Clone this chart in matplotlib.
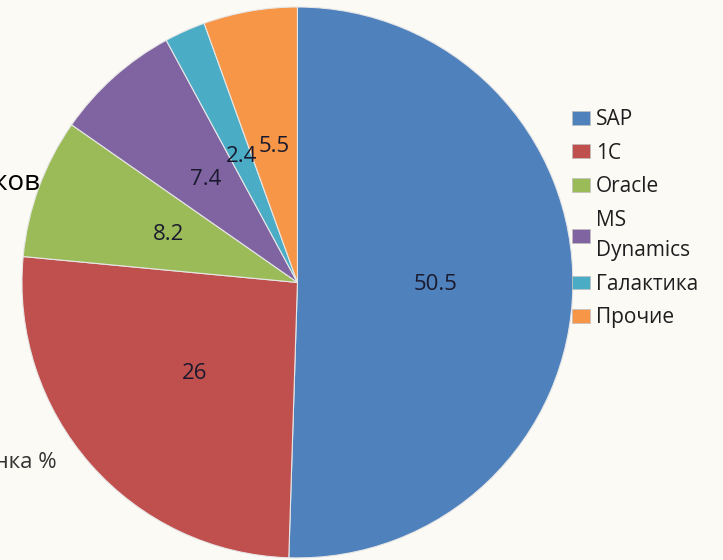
import numpy as np
import matplotlib.pyplot as plt
from matplotlib.patches import Patch

# Market share data
vendors = ["SAP", "1C", "Oracle", "MS\nDynamics", "Галактика", "Прочие"]
shares = [50.5, 26, 8.2, 7.4, 2.4, 5.5]
colors = ["#4F81BD", "#C0504D", "#9BBB59", "#8064A2", "#4BACC6", "#F79646"]

plt.rcParams["font.family"] = ["Open Sans", "DejaVu Sans"]

fig = plt.figure(figsize=(7.23, 5.6), dpi=100)
fig.patch.set_facecolor("#FCFAF5")

# clipped text fragments on the left edge (behind the pie)
fig.text(0.056, 0.674, "Рынок ERP-поставщиков", ha="right", va="center",
         fontsize=20, color="black", zorder=0)
fig.text(0.078, 0.175, "Оценка %", ha="right", va="center",
         fontsize=16, color="#333333", zorder=0)

ax = fig.add_axes([0.0304, 0.0036, 0.762, 0.984])
ax.set_facecolor("none")
wedges, texts = ax.pie(shares, colors=colors, startangle=90, counterclock=False,
                       radius=1, wedgeprops=dict(edgecolor="#e6e6e6", linewidth=0.8))
for w, val in zip(wedges, shares):
    ang = np.deg2rad((w.theta1 + w.theta2) / 2)
    ax.text(0.5 * np.cos(ang), 0.5 * np.sin(ang), f"{val:g}", ha="center",
            va="center", fontsize=16, color="#1a1a2e")
ax.set_xlim(-1, 1)
ax.set_ylim(-1, 1)
ax.set_aspect("equal")
ax.axis("off")

handles = [Patch(facecolor=c, edgecolor="#bfbfbf", linewidth=0.5) for c in colors]
leg = fig.legend(handles, vendors, loc="upper left", bbox_to_anchor=(0.791, 0.805),
                 frameon=False, fontsize=15, handlelength=0.85, handleheight=0.65,
                 handletextpad=0.3, labelspacing=0.6, borderpad=0, borderaxespad=0)
for t in leg.get_texts():
    t.set_color("#1e1e1e")
    t.set_linespacing(1.6)

plt.savefig("out.png", dpi=100, facecolor=fig.get_facecolor())
plt.close()
